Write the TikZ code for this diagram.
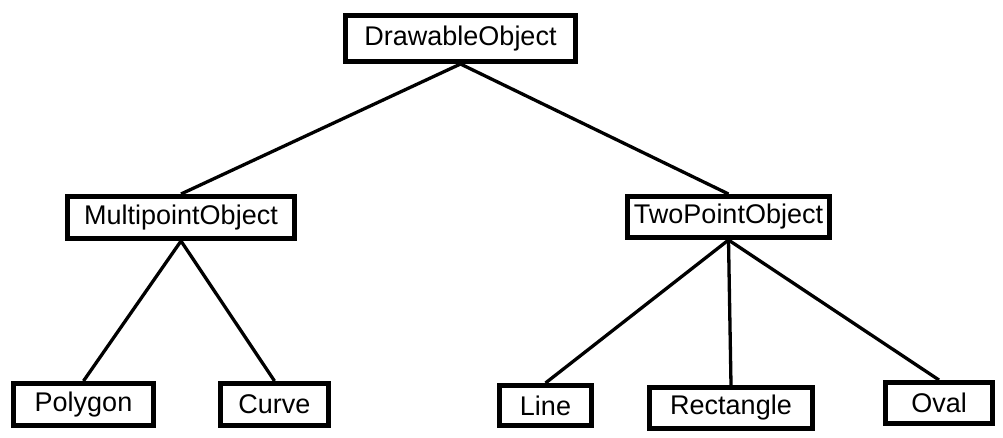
\documentclass[tikz,border=0pt]{standalone}
\usepackage{fontspec}
\setmainfont{Liberation Sans}
\begin{document}
\begin{tikzpicture}[x=1pt,y=-1pt,
  cls/.style={draw=black, line width=5pt, fill=white, inner sep=0pt, font=\fontsize{27}{31}\selectfont},
  link/.style={line width=3.3pt}]
\useasboundingbox (0,0) rectangle (1003,438);
\node[cls, minimum width=230pt, minimum height=46pt] (draw) at (460.5,38.5) {DrawableObject};
\node[cls, minimum width=227pt, minimum height=42pt] (multi) at (181,217.5) {MultipointObject};
\node[cls, minimum width=202pt, minimum height=41pt] (two) at (728.5,217) {TwoPointObject};
\node[cls, minimum width=140pt, minimum height=42pt] (poly) at (83.5,404.5) {Polygon};
\node[cls, minimum width=108pt, minimum height=42pt] (curve) at (274.5,404.5) {Curve};
\node[cls, minimum width=92pt, minimum height=40pt] (line) at (545.5,405.5) {Line};
\node[cls, minimum width=163pt, minimum height=41pt] (rect) at (731,408) {Rectangle};
\node[cls, minimum width=107pt, minimum height=41pt] (oval) at (939,403) {Oval};
\draw[link] (draw.south) -- (multi.north);
\draw[link] (draw.south) -- (two.north);
\draw[link] (multi.south) -- (poly.north);
\draw[link] (multi.south) -- (curve.north);
\draw[link] (two.south) -- (line.north);
\draw[link] (two.south) -- (rect.north);
\draw[link] (two.south) -- (oval.north);
\end{tikzpicture}
\end{document}
